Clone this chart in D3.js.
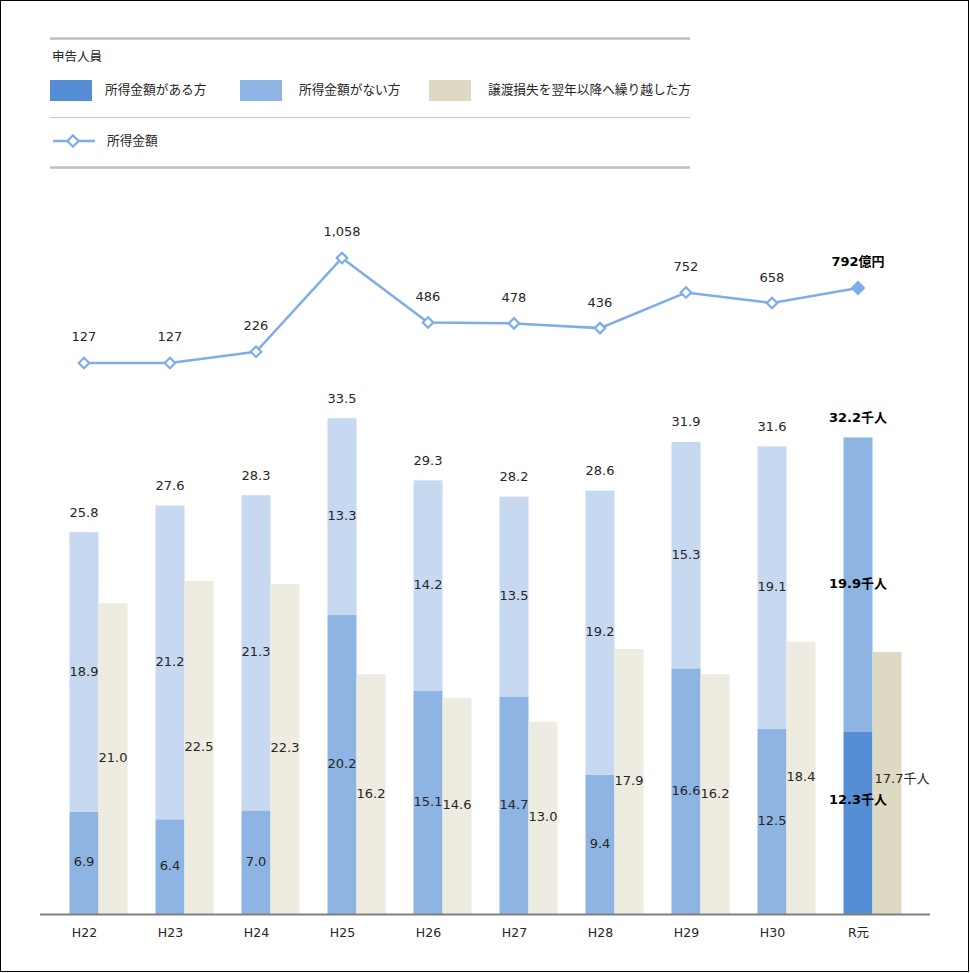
<!DOCTYPE html>
<html><head><meta charset="utf-8">
<script src="https://cdn.jsdelivr.net/npm/d3@7"></script>
<style>
html,body{margin:0;padding:0;background:#fff;}
svg text{font-family:"DejaVu Sans","Noto Sans CJK JP",sans-serif;}
</style></head>
<body><svg id="chart" width="970" height="973"></svg>
<script>
const categories = ["H22","H23","H24","H25","H26","H27","H28","H29","H30","R元"];
const withIncome = [6.9,6.4,7.0,20.2,15.1,14.7,9.4,16.6,12.5,12.3];
const withoutIncome = [18.9,21.2,21.3,13.3,14.2,13.5,19.2,15.3,19.1,19.9];
const totals = [25.8,27.6,28.3,33.5,29.3,28.2,28.6,31.9,31.6,32.2];
const carriedLoss = [21.0,22.5,22.3,16.2,14.6,13.0,17.9,16.2,18.4,17.7];
const incomeAmount = [127,127,226,1058,486,478,436,752,658,792];
const legendLabels = ["所得金額がある方","所得金額がない方","譲渡損失を翌年以降へ繰り越した方"];
const lineLabel = "所得金額";
const legendTitle = "申告人員";

const svg = d3.select("#chart");
const W = 970, H = 973;
svg.append("rect").attr("x",0.5).attr("y",0.5).attr("width",W-2).attr("height",H-2)
  .attr("fill","#fff").attr("stroke","#000").attr("stroke-width",1);

const colAru = "#8EB4E3", colNai = "#C6D9F1", colCarry = "#EEECE1";
const colAruLast = "#558ED5", colNaiLast = "#8EB4E3", colCarryLast = "#DDD9C3";
const lineCol = "#7EADEA";
const textCol = "#262626";
const n = categories.length;
const last = n - 1;

// scales
const x = d3.scalePoint().domain(categories).range([84, 858]);
const baseY = 914;
const yBar = d3.scaleLinear().domain([0, 10]).range([baseY, baseY - 148]);
const yLine = d3.scaleLinear().domain([0, 1000]).range([377.3, 377.3 - 112.8]);
const bw = 29;

// legend
const lg = svg.append("g");
lg.append("line").attr("x1",50).attr("x2",690).attr("y1",38.5).attr("y2",38.5).attr("stroke","#BFBFBF").attr("stroke-width",2.5);
lg.append("text").attr("x",52).attr("y",57).attr("dominant-baseline","middle").attr("font-size",12.5).attr("fill",textCol).text(legendTitle);
const swX = [50, 240, 429], txX = [105, 299, 488];
const swC = [colAruLast, colNaiLast, colCarryLast];
legendLabels.forEach((t,i)=>{
  lg.append("rect").attr("x",swX[i]).attr("y",80).attr("width",42).attr("height",21).attr("fill",swC[i]);
  lg.append("text").attr("x",txX[i]).attr("y",90.5).attr("dominant-baseline","middle").attr("font-size",12.7).attr("fill",textCol).text(t);
});
lg.append("line").attr("x1",50).attr("x2",690).attr("y1",117.5).attr("y2",117.5).attr("stroke","#C8C8C8").attr("stroke-width",1.2);
lg.append("line").attr("x1",53).attr("x2",95).attr("y1",141).attr("y2",141).attr("stroke",lineCol).attr("stroke-width",2.5);
lg.append("path").attr("d",d3.symbol(d3.symbolDiamond2, 80)()).attr("transform","translate(73,141)")
  .attr("fill","#fff").attr("stroke",lineCol).attr("stroke-width",2.2);
lg.append("text").attr("x",107).attr("y",141.5).attr("dominant-baseline","middle").attr("font-size",12.7).attr("fill",textCol).text(lineLabel);
lg.append("line").attr("x1",50).attr("x2",690).attr("y1",167.5).attr("y2",167.5).attr("stroke","#BFBFBF").attr("stroke-width",2.5);

// bars
const g = svg.append("g");
categories.forEach((c,i)=>{
  const cx = x(c);
  const isLast = i === last;
  g.append("rect").attr("x",cx-bw/2).attr("width",bw)
    .attr("y",yBar(withIncome[i])).attr("height",baseY - yBar(withIncome[i]))
    .attr("fill", isLast ? colAruLast : colAru);
  g.append("rect").attr("x",cx-bw/2).attr("width",bw)
    .attr("y",yBar(withIncome[i]+withoutIncome[i])).attr("height",yBar(withIncome[i]) - yBar(withIncome[i]+withoutIncome[i]))
    .attr("fill", isLast ? colNaiLast : colNai);
  g.append("rect").attr("x",cx+bw/2).attr("width",bw)
    .attr("y",yBar(carriedLoss[i])).attr("height",baseY - yBar(carriedLoss[i]))
    .attr("fill", isLast ? colCarryLast : colCarry);
});

// bar labels
const lbl = svg.append("g").attr("font-size",13);
const fmt = d3.format(".1f");
categories.forEach((c,i)=>{
  const cx = x(c);
  const isLast = i === last;
  const suf = isLast ? "千人" : "";
  const style = s => s.attr("font-weight", isLast ? "bold" : "normal").attr("fill", isLast ? "#000" : textCol);
  const lowY = isLast ? yBar(withIncome[i]) + 69 : (baseY + yBar(withIncome[i]))/2;
  style(lbl.append("text").attr("x",cx).attr("y",lowY)
    .attr("text-anchor","middle").attr("dominant-baseline","middle").text(fmt(withIncome[i])+suf));
  style(lbl.append("text").attr("x",cx).attr("y",(yBar(withIncome[i]) + yBar(withIncome[i]+withoutIncome[i]))/2)
    .attr("text-anchor","middle").attr("dominant-baseline","middle").text(fmt(withoutIncome[i])+suf));
  style(lbl.append("text").attr("x",cx).attr("y",yBar(withIncome[i]+withoutIncome[i]) - 19)
    .attr("text-anchor","middle").attr("dominant-baseline","middle").text(fmt(totals[i])+suf));
  const cy = (baseY + yBar(carriedLoss[i]))/2;
  if (isLast) {
    lbl.append("text").attr("x",cx+bw/2+2).attr("y",cy - 4).attr("text-anchor","start").attr("dominant-baseline","middle")
      .attr("fill",textCol).text(fmt(carriedLoss[i])+"千人");
  } else {
    lbl.append("text").attr("x",cx+bw).attr("y",cy).attr("text-anchor","middle").attr("dominant-baseline","middle")
      .attr("fill",textCol).text(fmt(carriedLoss[i]));
  }
});

// axis
const axis = d3.axisBottom(x).tickSize(0).tickPadding(14);
const ax = svg.append("g").attr("transform",`translate(0,${baseY})`).call(axis);
ax.select(".domain").remove();
ax.selectAll("text").attr("font-size",12.5).attr("fill",textCol)
  .attr("font-family",'"DejaVu Sans","Noto Sans CJK JP",sans-serif');
svg.append("line").attr("x1",40).attr("x2",930).attr("y1",baseY+0.5).attr("y2",baseY+0.5).attr("stroke","#808080").attr("stroke-width",1.8);

// line
const pts = categories.map((c,i)=>[x(c), yLine(incomeAmount[i])]);
svg.append("path").attr("d", d3.line()(pts)).attr("fill","none").attr("stroke",lineCol).attr("stroke-width",2.5);
pts.forEach((p,i)=>{
  const isLast = i === last;
  svg.append("path").attr("d",d3.symbol(d3.symbolDiamond2, isLast ? 90 : 70)()).attr("transform",`translate(${p[0]},${p[1]})`)
    .attr("fill", isLast ? lineCol : "#fff").attr("stroke",lineCol).attr("stroke-width",2.2);
  svg.append("text").attr("x",p[0]).attr("y",p[1]-25).attr("text-anchor","middle").attr("dominant-baseline","middle")
    .attr("font-size",13).attr("font-weight", isLast ? "bold" : "normal").attr("fill", isLast ? "#000" : textCol)
    .text(d3.format(",")(incomeAmount[i]) + (isLast ? "億円" : ""));
});
</script></body></html>
